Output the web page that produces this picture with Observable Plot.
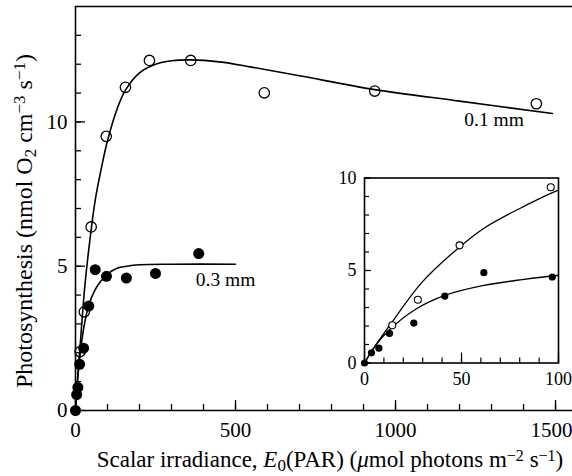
<!DOCTYPE html>
<html><head><meta charset="utf-8">
<script src="https://cdn.jsdelivr.net/npm/d3@7"></script>
<script src="https://cdn.jsdelivr.net/npm/@observablehq/plot@0.6"></script>
<style>
body{margin:0;background:#fff}
#c{position:relative;width:572px;height:476px;overflow:hidden}
#c svg{position:absolute;left:0;top:0}
#c svg.inset{left:330px;top:160px}
</style>
</head><body><div id="c"></div><script>
// Open circles: 0.1 mm
const open01X = [14.3, 27.5, 49, 96, 156, 231, 360, 590, 935, 1440];
const open01Y = [2.04, 3.42, 6.36, 9.5, 11.2, 12.13, 12.13, 11.01, 11.07, 10.63];
// Filled circles: 0.3 mm
const filled03X = [0, 3.6, 7.4, 12.9, 25.4, 41.4, 61.5, 96.8, 159, 250, 385];
const filled03Y = [0, 0.55, 0.8, 1.6, 2.16, 3.62, 4.88, 4.65, 4.59, 4.75, 5.44];
// Fitted curves
const fit01X = [0, 5.7, 14.2, 29.7, 48.9, 62.4, 81.3, 99.3, 130, 156, 200, 250, 300, 360, 450, 550, 700, 935, 1200, 1490];
const fit01Y = [0, 0.95, 2.21, 4.37, 6.26, 7.34, 8.42, 9.32, 10.45, 11.1, 11.7, 12.0, 12.12, 12.15, 12.08, 11.9, 11.6, 11.12, 10.72, 10.29];
const fit03X = [0, 5.7, 12.5, 25.4, 41.4, 61.5, 81.3, 99.3, 130, 160, 200, 300, 500];
const fit03Y = [0, 0.95, 1.76, 2.84, 3.65, 4.19, 4.51, 4.73, 4.93, 5.0, 5.05, 5.07, 5.07];
// Curve labels
const curveLabels = ["0.1 mm", "0.3 mm"];
const curveLabelX = [1308, 469];
const curveLabelY = [10.08, 4.54];
// Tick values
const mainXMajor = [0, 500, 1000, 1500];
const mainXMinor = d3.range(0, 1501, 100);
const mainYMajor = [0, 5, 10];
const mainYMinor = d3.range(0, 14, 1);
const insetXMajor = [0, 50, 100];
const insetXMinor = d3.range(0, 101, 10);
const insetYMajor = [0, 5, 10];
const insetYMinor = d3.range(0, 11, 1);

const zip = (xs, ys) => xs.map((x, i) => ({x, y: ys[i]}));
const open01 = zip(open01X, open01Y);
const filled03 = zip(filled03X, filled03Y);
const fit01 = zip(fit01X, fit01Y);
const fit03 = zip(fit03X, fit03Y);
const labels = curveLabels.map((t, i) => ({t, x: curveLabelX[i], y: curveLabelY[i]}));

const FONT = "'Liberation Serif','Times New Roman',serif";
const fmt = d3.format("d");

// inward ticks: draw outward tick, then shift it inside by its own length
const xTicks = (v, len, sw) => Plot.axisX(v, {tickSize: len, dy: -len, fill: "none", strokeWidth: sw, label: null});
const yTicks = (v, len, sw) => Plot.axisY(v, {tickSize: len, dx: len, fill: "none", strokeWidth: sw, label: null});
const xLabels = (v, pad, fs, extra = {}) => Plot.axisX(v, {tickSize: 0, tickPadding: pad, stroke: "none", fontSize: fs, tickFormat: fmt, label: null, ...extra});
const yLabels = (v, pad, fs) => Plot.axisY(v, {tickSize: 0, tickPadding: pad, stroke: "none", fontSize: fs, tickFormat: fmt, label: null});

const main = Plot.plot({
  width: 572, height: 476,
  marginLeft: 75, marginRight: 0, marginTop: 6, marginBottom: 66,
  x: {domain: [0, 1553]},
  y: {domain: [0, 14]},
  style: {fontFamily: FONT, fontSize: "21px", color: "black", background: "none"},
  marks: [
    Plot.ruleY([0], {strokeWidth: 1.6}),
    Plot.ruleY([14], {strokeWidth: 1.6}),
    Plot.ruleX([0], {strokeWidth: 1.6}),
    xTicks(mainXMinor, 6, 1.3),
    xTicks(mainXMajor, 10, 1.3),
    yTicks(mainYMinor, 6, 1.3),
    yTicks(mainYMajor, 10, 1.3),
    xLabels(mainXMajor.slice(0, 3), 12, 21),
    xLabels(mainXMajor.slice(3), 12, 21, {dx: -4}),
    yLabels(mainYMajor, 8, 21),
    Plot.line(fit01, {x: "x", y: "y", curve: "catmull-rom", strokeWidth: 1.6}),
    Plot.line(fit03, {x: "x", y: "y", curve: "catmull-rom", strokeWidth: 1.6}),
    Plot.dot(open01, {x: "x", y: "y", r: 5.2, stroke: "black", fill: "none", strokeWidth: 1.3}),
    Plot.dot(filled03, {x: "x", y: "y", r: 5.5, fill: "black"}),
    Plot.text(labels, {x: "x", y: "y", text: "t", fontSize: 19.5, fill: "black"})
  ]
});

const inset = Plot.plot({
  width: 242, height: 230,
  marginLeft: 34, marginRight: 14, marginTop: 17.5, marginBottom: 27.5,
  x: {domain: [0, 100]},
  y: {domain: [0, 10]},
  style: {fontFamily: FONT, fontSize: "18px", color: "black", background: "none"},
  marks: [
    Plot.frame({strokeWidth: 1.6}),
    xTicks(insetXMinor, 5, 1.2),
    xTicks(insetXMajor, 10, 1.2),
    yTicks(insetYMinor, 5, 1.2),
    yTicks(insetYMajor, 7, 1.2),
    xLabels(insetXMajor, 9, 18),
    yLabels(insetYMajor, 8, 18),
    Plot.line(fit01, {x: "x", y: "y", curve: "catmull-rom", strokeWidth: 1.3, clip: true}),
    Plot.line(fit03, {x: "x", y: "y", curve: "catmull-rom", strokeWidth: 1.3, clip: true}),
    Plot.dot(open01.filter(d => d.x <= 100), {x: "x", y: "y", r: 3.5, stroke: "black", fill: "white", strokeWidth: 1.1}),
    Plot.dot(filled03.filter(d => d.x <= 100), {x: "x", y: "y", r: 3.6, fill: "black"})
  ]
});
inset.classList.add("inset");

const c = document.getElementById("c");
c.appendChild(main);
c.appendChild(inset);

// Axis titles with italics, sub- and superscripts
const svg = d3.select(main);
const xt = svg.append("text")
  .attr("x", 330).attr("y", 467)
  .attr("text-anchor", "middle")
  .attr("font-family", FONT).attr("font-size", 23).attr("fill", "black");
xt.append("tspan").text("Scalar irradiance, ");
xt.append("tspan").attr("font-style", "italic").text("E");
xt.append("tspan").attr("baseline-shift", "-0.25em").attr("font-size", 17).text("0");
xt.append("tspan").text("(PAR) (");
xt.append("tspan").attr("font-style", "italic").text("\u03bc");
xt.append("tspan").text("mol photons m");
xt.append("tspan").attr("baseline-shift", "0.4em").attr("font-size", 16).text("\u22122");
xt.append("tspan").text(" s");
xt.append("tspan").attr("baseline-shift", "0.4em").attr("font-size", 16).text("\u22121");
xt.append("tspan").text(")");

const yt = svg.append("text")
  .attr("text-anchor", "middle")
  .attr("transform", "translate(32,221) rotate(-90)")
  .attr("font-family", FONT).attr("font-size", 24).attr("fill", "black");
yt.append("tspan").text("Photosynthesis (nmol O");
yt.append("tspan").attr("baseline-shift", "-0.25em").attr("font-size", 17).text("2");
yt.append("tspan").text(" cm");
yt.append("tspan").attr("baseline-shift", "0.4em").attr("font-size", 17).text("\u22123");
yt.append("tspan").text(" s");
yt.append("tspan").attr("baseline-shift", "0.4em").attr("font-size", 17).text("\u22121");
yt.append("tspan").text(")");
</script></body></html>
